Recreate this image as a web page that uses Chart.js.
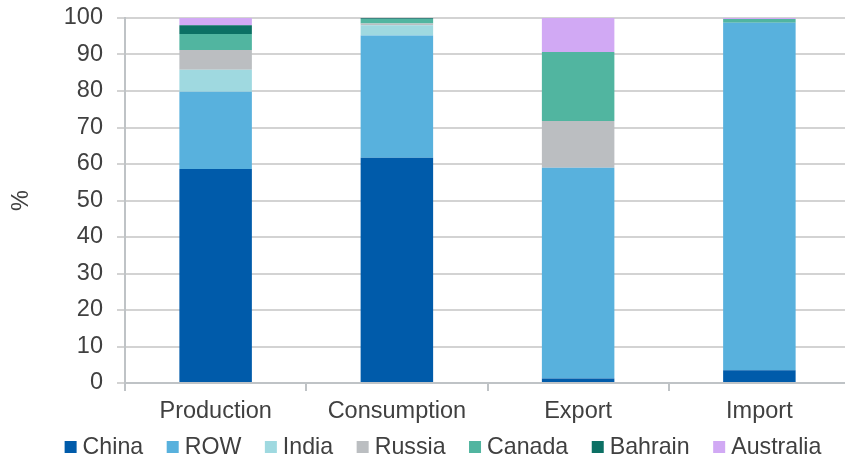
<!DOCTYPE html>
<html>
<head>
<meta charset="utf-8">
<script src="https://cdn.jsdelivr.net/npm/chart.js@4/dist/chart.umd.min.js"></script>
<style>
  html, body { margin: 0; padding: 0; background: #fff; overflow: hidden; }
  #wrap { position: relative; width: 850px; height: 460px; }
</style>
</head>
<body>
<div id="wrap"><canvas id="c"></canvas></div>
<script>
const categories = ['Production', 'Consumption', 'Export', 'Import'];
const seriesNames = ['China', 'ROW', 'India', 'Russia', 'Canada', 'Bahrain', 'Australia'];
const china     = [58.6, 61.7, 1.2, 3.5];
const row       = [21.2, 33.5, 57.8, 95.2];
const india     = [6.0, 2.8, 0, 0];
const russia    = [5.4, 0.5, 12.8, 0];
const canada    = [4.4, 1.2, 18.9, 1.0];
const bahrain   = [2.4, 0.2, 0, 0];
const australia = [2.0, 0.1, 9.3, 0.3];
const yTicks = [0, 10, 20, 30, 40, 50, 60, 70, 80, 90, 100];
const yTitle = '%';

const colors = ['#005BAA', '#58B1DD', '#9FD9E0', '#BBBEC1', '#51B5A0', '#0C7064', '#D1A9F4'];
const seriesData = [china, row, india, russia, canada, bahrain, australia];

const FONT = "'Liberation Sans', Arial, sans-serif";
const TXT = '#404040';
const TICK_SIZE = 23.5;
const LEGEND_SIZE = 23.2;

// Legend drawn through a Chart.js plugin from the datasets
const bottomLegend = {
  id: 'bottomLegend',
  afterDraw(chart) {
    const ctx = chart.ctx;
    const box = 12, gapBox = 6, gapItem = 23.5, centerX = 443, centerY = 447;
    ctx.save();
    ctx.font = `${LEGEND_SIZE}px ${FONT}`;
    const items = chart.data.datasets.map(ds => ({ text: ds.label, color: ds.backgroundColor, w: ctx.measureText(ds.label).width }));
    const total = items.reduce((s, it) => s + box + gapBox + it.w, 0) + gapItem * (items.length - 1);
    let x = centerX - total / 2;
    ctx.textBaseline = 'middle';
    ctx.textAlign = 'left';
    items.forEach(it => {
      ctx.fillStyle = it.color;
      ctx.fillRect(x, centerY - box / 2, box, box);
      x += box + gapBox;
      ctx.fillStyle = TXT;
      ctx.fillText(it.text, x, centerY + 1);
      x += it.w + gapItem;
    });
    ctx.restore();
  }
};

new Chart(document.getElementById('c'), {
  type: 'bar',
  data: {
    labels: categories,
    datasets: seriesNames.map((n, i) => ({
      label: n,
      data: seriesData[i],
      backgroundColor: colors[i],
      borderWidth: 0,
      categoryPercentage: 1,
      barPercentage: 0.4
    }))
  },
  plugins: [bottomLegend],
  options: {
    responsive: true,
    maintainAspectRatio: false,
    animation: false,
    layout: { padding: { top: 18, right: 0, bottom: 27, left: 0 } },
    plugins: {
      tooltip: { enabled: false },
      legend: { display: false }
    },
    scales: {
      x: {
        stacked: true,
        offset: true,
        afterFit: s => { s.height = 50; s.paddingLeft = 0; s.paddingRight = 0; },
        grid: { display: true, drawOnChartArea: false, drawTicks: true, tickLength: 8, color: '#BFC3C6', lineWidth: 2, offset: true },
        border: { display: true, color: '#BFC3C6', width: 2 },
        ticks: { color: TXT, font: { family: FONT, size: TICK_SIZE }, padding: 6, maxRotation: 0 }
      },
      y: {
        stacked: true,
        min: 0, max: 100,
        afterFit: s => { s.width = 125; s.paddingTop = 0; s.paddingBottom = 0; },
        afterBuildTicks: s => { s.ticks = yTicks.map(v => ({ value: v })); },
        grid: { color: '#D3D3D3', lineWidth: 2, tickLength: 8 },
        border: { display: true, color: '#BFC3C6', width: 2 },
        ticks: { color: TXT, font: { family: FONT, size: TICK_SIZE }, padding: 14 },
        title: { display: true, text: yTitle, color: TXT, font: { family: FONT, size: TICK_SIZE }, padding: { top: 7, bottom: 0 } }
      }
    }
  }
});
</script>
</body>
</html>
